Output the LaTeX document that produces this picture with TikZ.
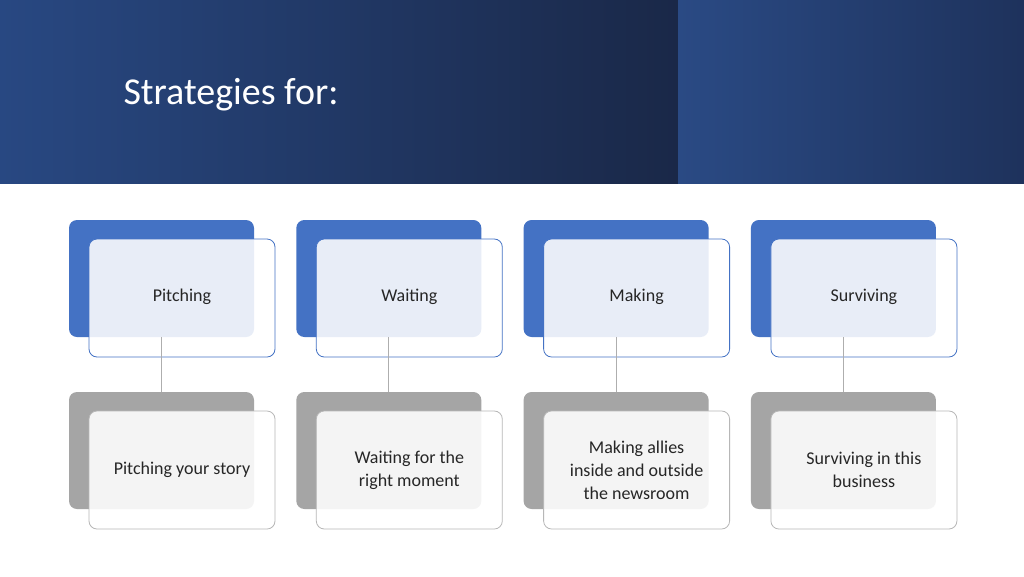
\documentclass[tikz,border=0pt]{standalone}
\usepackage{fontspec}
\setmainfont{Carlito}
\begin{document}
\begin{tikzpicture}[x=1pt,y=-1pt,
  backb/.style={fill=bluec,rounded corners=8pt},
  backg/.style={fill=grayc,rounded corners=8pt},
  frontb/.style={draw=bluec,fill=white,fill opacity=0.88,rounded corners=8pt,line width=0.8pt},
  frontg/.style={draw=grayc!80,fill=white,fill opacity=0.88,rounded corners=8pt,line width=0.8pt},
  lbl/.style={font=\fontsize{18}{23}\selectfont,text=black!85,align=center},
  conn/.style={draw=grayc!90,line width=0.8pt}]
\definecolor{bluec}{HTML}{4472C4}
\definecolor{grayc}{HTML}{A5A5A5}
\useasboundingbox (0,0) rectangle (1024,576);
\fill[white] (0,0) rectangle (1024,576);
\shade[left color={rgb,255:red,40;green,72;blue,130},right color={rgb,255:red,26;green,40;blue,72}] (0,0) rectangle (678,183);
\shade[left color={rgb,255:red,42;green,74;blue,132},right color={rgb,255:red,30;green,50;blue,92}] (678,0) rectangle (1024,183);
\node[anchor=west,text=white,font=\fontsize{38}{44}\selectfont] (title) at (120,95) {Strategies for:};
\foreach \i/\a/\b in {0/Pitching/Pitching your story,1/Waiting/Waiting for the\\right moment,2/Making/Making allies\\inside and outside\\the newsroom,3/Surviving/Surviving in this\\business}{
  \begin{scope}[xshift=\i*227.3]
  \fill[backb] (69,220) rectangle (254,337);
  \draw[frontb] (89,239) rectangle (275,357);
  \node[lbl] (t\i) at (182,297) {\a};
  \fill[backg] (69,392) rectangle (254,509);
  \draw[frontg] (89,411) rectangle (275,529);
  \node[lbl] (b\i) at (182,470) {\b};
  \coordinate (c1\i) at (161.5,337);
  \coordinate (c2\i) at (161.5,392);
  \draw[conn] (c1\i) -- (c2\i);
  \end{scope}}
\end{tikzpicture}
\end{document}
